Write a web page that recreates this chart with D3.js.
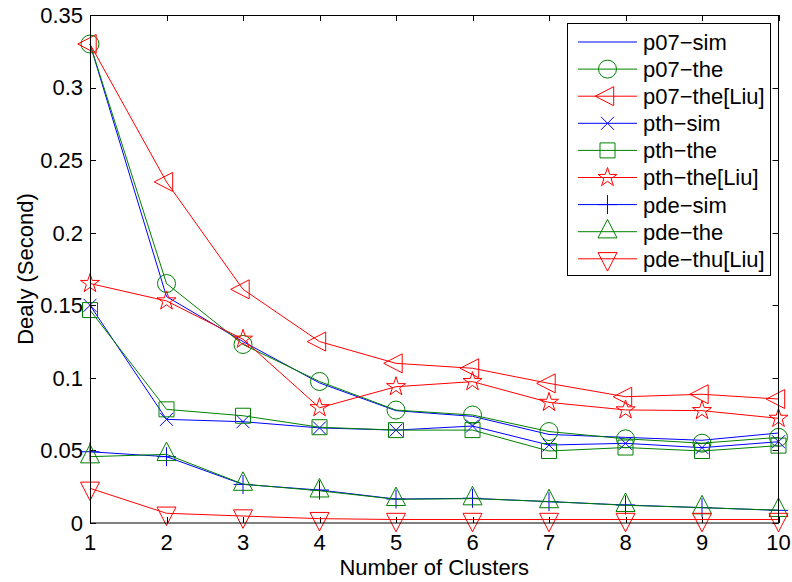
<!DOCTYPE html>
<html>
<head>
<meta charset="utf-8">
<script src="https://cdn.jsdelivr.net/npm/d3@7.9.0/dist/d3.min.js"></script>
<style>
  body { margin: 0; background: #fff; }
  svg { font-family: 'Liberation Sans', Arial, sans-serif; }
</style>
</head>
<body>
<div id="chart"></div>
<script>
const clusters = [1, 2, 3, 4, 5, 6, 7, 8, 9, 10];

const p07Sim    = [0.330, 0.156, 0.125, 0.0965, 0.0774, 0.0735, 0.061, 0.059, 0.057, 0.062];
const p07The    = [0.330, 0.165, 0.123, 0.0975, 0.0778, 0.0744, 0.063, 0.058, 0.055, 0.059];
const p07TheLiu = [0.330, 0.235, 0.161, 0.125, 0.110, 0.1066, 0.0962, 0.087, 0.0887, 0.0854];
const pthSim    = [0.150, 0.0714, 0.0698, 0.0655, 0.064, 0.0668, 0.0537, 0.0549, 0.0519, 0.056];
const pthThe    = [0.1467, 0.0783, 0.0739, 0.066, 0.064, 0.064, 0.0496, 0.0520, 0.0496, 0.0533];
const pthTheLiu = [0.165, 0.153, 0.1266, 0.0794, 0.0939, 0.0974, 0.0831, 0.0779, 0.0774, 0.0721];
const pdeSim    = [0.0491, 0.0457, 0.0266, 0.0227, 0.0165, 0.017, 0.0147, 0.0124, 0.0106, 0.0087];
const pdeThe    = [0.0457, 0.0473, 0.0268, 0.0222, 0.0163, 0.0168, 0.0148, 0.0122, 0.0106, 0.0088];
const pdeThuLiu = [0.0239, 0.0067, 0.0048, 0.0030, 0.0024, 0.0024, 0.0024, 0.0024, 0.0024, 0.0024];

const yTicks = [0, 0.05, 0.1, 0.15, 0.2, 0.25, 0.3, 0.35];

const series = [
  { name: 'p07\u2212sim',       values: p07Sim,    color: '#0000ff', marker: 'none' },
  { name: 'p07\u2212the',       values: p07The,    color: '#008000', marker: 'circle' },
  { name: 'p07\u2212the[Liu]',  values: p07TheLiu, color: '#ff0000', marker: 'triLeft' },
  { name: 'pth\u2212sim',       values: pthSim,    color: '#0000ff', marker: 'x' },
  { name: 'pth\u2212the',       values: pthThe,    color: '#008000', marker: 'square' },
  { name: 'pth\u2212the[Liu]',  values: pthTheLiu, color: '#ff0000', marker: 'star' },
  { name: 'pde\u2212sim',       values: pdeSim,    color: '#0000ff', marker: 'plus' },
  { name: 'pde\u2212the',       values: pdeThe,    color: '#008000', marker: 'triUp' },
  { name: 'pde\u2212thu[Liu]',  values: pdeThuLiu, color: '#ff0000', marker: 'triDown' },
];

const width = 792, height = 582;
const margin = { top: 15, right: 13, bottom: 59, left: 90 };
const fontSize = 22;

const svg = d3.select('#chart').append('svg')
  .attr('width', width).attr('height', height);

const x = d3.scaleLinear().domain([1, 10]).range([margin.left, width - margin.right - 0.5]);
const y = d3.scaleLinear().domain([0, 0.35]).range([height - margin.bottom, margin.top]);

// marker shapes, MATLAB-like
function markerPath(type) {
  const p = d3.path();
  if (type === 'circle') {
    p.moveTo(9, 0); p.arc(0, 0, 9, 0, 2 * Math.PI);
  } else if (type === 'square') {
    p.rect(-7.5, -7.5, 15, 15);
  } else if (type === 'x') {
    p.moveTo(-6.5, -6.5); p.lineTo(6.5, 6.5);
    p.moveTo(-6.5, 6.5); p.lineTo(6.5, -6.5);
  } else if (type === 'plus') {
    p.moveTo(-9.5, 0); p.lineTo(9.5, 0);
    p.moveTo(0, -9.5); p.lineTo(0, 9.5);
  } else if (type === 'star') {
    const R = 10, r = R * 0.382;
    for (let i = 0; i < 10; i++) {
      const a = -Math.PI / 2 + i * Math.PI / 5;
      const rr = i % 2 ? r : R;
      if (i === 0) p.moveTo(rr * Math.cos(a), rr * Math.sin(a));
      else p.lineTo(rr * Math.cos(a), rr * Math.sin(a));
    }
    p.closePath();
  } else if (type === 'triUp') {
    p.moveTo(0, -12.3); p.lineTo(9.5, 6.2); p.lineTo(-9.5, 6.2); p.closePath();
  } else if (type === 'triDown') {
    p.moveTo(0, 12.3); p.lineTo(9.5, -6.2); p.lineTo(-9.5, -6.2); p.closePath();
  } else if (type === 'triLeft') {
    p.moveTo(-12.3, 0); p.lineTo(6.2, -9.5); p.lineTo(6.2, 9.5); p.closePath();
  }
  return p.toString();
}

// axes box
const plotL = margin.left, plotR = width - margin.right - 0.5;
const plotT = margin.top, plotB = height - margin.bottom;

const tickLen = 6;
const axisG = svg.append('g').attr('stroke', '#000').attr('stroke-width', 1);

// x ticks bottom and top
clusters.forEach(c => {
  const px = Math.round(x(c)) + 0.5;
  axisG.append('line').attr('x1', px).attr('x2', px).attr('y1', plotB).attr('y2', plotB - tickLen);
  axisG.append('line').attr('x1', px).attr('x2', px).attr('y1', plotT).attr('y2', plotT + tickLen);
});
yTicks.forEach(t => {
  const py = Math.round(y(t)) + 0.5;
  axisG.append('line').attr('x1', plotL).attr('x2', plotL + tickLen).attr('y1', py).attr('y2', py);
  axisG.append('line').attr('x1', plotR).attr('x2', plotR - tickLen).attr('y1', py).attr('y2', py);
});

// tick labels
svg.append('g').selectAll('text').data(clusters).join('text')
  .attr('x', d => x(d)).attr('y', plotB + 27)
  .attr('text-anchor', 'middle').attr('font-size', fontSize).text(d => d);

svg.append('g').selectAll('text').data(yTicks).join('text')
  .attr('x', plotL - 7).attr('y', d => y(d)).attr('dy', '0.36em')
  .attr('text-anchor', 'end').attr('font-size', fontSize).text(d => d3.format('')(d));

// axis titles
svg.append('text').attr('x', (plotL + plotR) / 2).attr('y', 575)
  .attr('text-anchor', 'middle').attr('font-size', fontSize).text('Number of Clusters');
svg.append('text')
  .attr('transform', `translate(33, ${(plotT + plotB) / 2}) rotate(-90)`)
  .attr('text-anchor', 'middle').attr('font-size', fontSize).text('Dealy (Second)');

// series
const line = d3.line().x((d, i) => x(clusters[i])).y(d => y(d));

series.forEach(s => {
  const g = svg.append('g');
  g.append('path').attr('d', line(s.values))
    .attr('fill', 'none').attr('stroke', s.color).attr('stroke-width', 1);
  if (s.marker !== 'none') {
    g.selectAll('path.m').data(s.values).join('path').attr('class', 'm')
      .attr('transform', (d, i) => `translate(${x(clusters[i])},${y(d)})`)
      .attr('d', markerPath(s.marker))
      .attr('fill', 'none').attr('stroke', s.color).attr('stroke-width', 1);
  }
});

// box outline on top
svg.append('rect')
  .attr('x', plotL + 0.5).attr('y', plotT + 0.5)
  .attr('width', plotR - plotL - 0.5).attr('height', plotB - plotT - 0.5)
  .attr('fill', 'none').attr('stroke', '#000').attr('stroke-width', 1);

// legend
const leg = svg.append('g');
leg.append('rect').attr('x', 567.5).attr('y', 23.5).attr('width', 203).attr('height', 252)
  .attr('fill', '#fff').attr('stroke', '#000').attr('stroke-width', 1);

series.forEach((s, i) => {
  const cy = 42 + i * 27.1;
  const row = leg.append('g');
  row.append('line').attr('x1', 578).attr('x2', 637).attr('y1', cy).attr('y2', cy)
    .attr('stroke', s.color).attr('stroke-width', 1);
  if (s.marker !== 'none') {
    row.append('path').attr('transform', `translate(607.5,${cy})`)
      .attr('d', markerPath(s.marker))
      .attr('fill', 'none').attr('stroke', s.color).attr('stroke-width', 1);
  }
  row.append('text').attr('x', 643).attr('y', cy).attr('dy', '0.36em')
    .attr('font-size', fontSize).text(s.name);
});
</script>
</body>
</html>
